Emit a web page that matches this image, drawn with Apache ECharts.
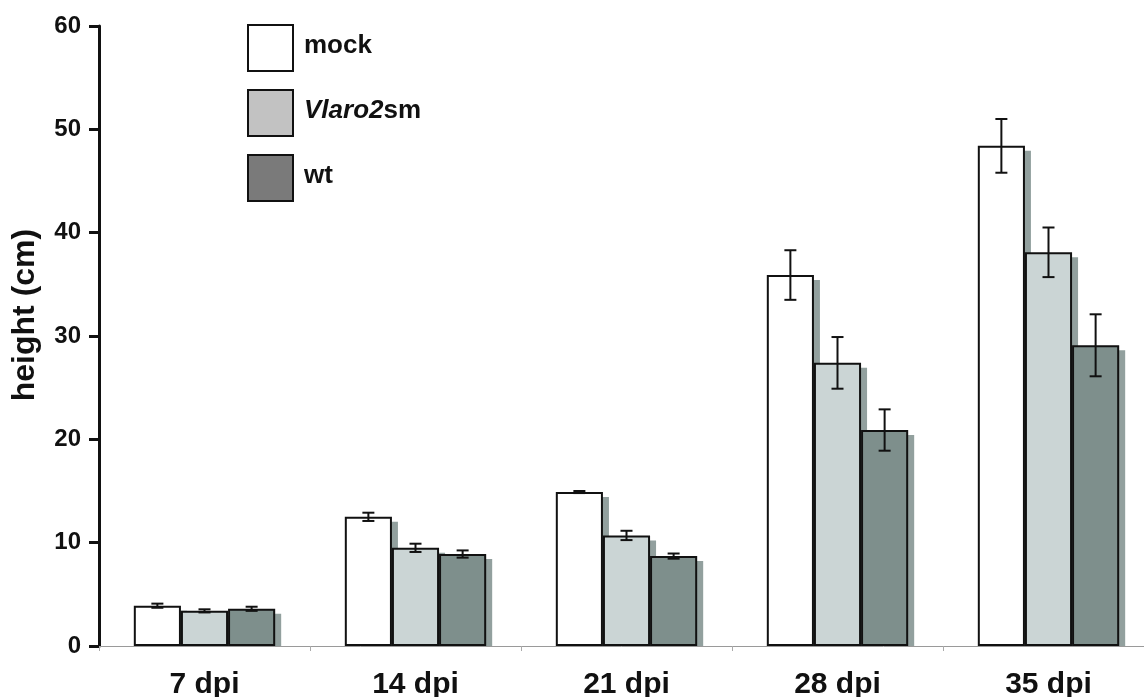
<!DOCTYPE html>
<html>
<head>
<meta charset="utf-8">
<script src="https://cdn.jsdelivr.net/npm/echarts@6/dist/echarts.min.js"></script>
<style>
html,body{margin:0;padding:0;background:#fff;overflow:hidden;}
#chart{width:1144px;height:697px;}
</style>
</head>
<body>
<div id="chart"></div>
<script>
const categories = ['7 dpi', '14 dpi', '21 dpi', '28 dpi', '35 dpi'];
const seriesNames = ['mock', 'Vlaro2sm', 'wt'];
const mockValues  = [3.9, 12.5, 14.9, 35.9, 48.4];
const vlaroValues = [3.4, 9.5, 10.7, 27.4, 38.1];
const wtValues    = [3.6, 8.9, 8.7, 20.9, 29.1];
const mockErr  = [0.2, 0.4, 0.1, 2.4, 2.6];
const vlaroErr = [0.15, 0.4, 0.45, 2.5, 2.4];
const wtErr    = [0.2, 0.35, 0.25, 2.0, 3.0];
const yTicks = [0, 10, 20, 30, 40, 50, 60];

const FONT = '"Liberation Sans", Arial, Helvetica, sans-serif';
const barFill = ['#ffffff', '#cbd5d5', '#7e8f8c'];
const legendFill = ['#ffffff', '#c2c2c2', '#7a7a7a'];
const valueSets = [mockValues, vlaroValues, wtValues];
const errSets = [mockErr, vlaroErr, wtErr];

const chart = echarts.init(document.getElementById('chart'), null, {renderer: 'canvas'});

function barGeom(api, i, k, v) {
  const catW = api.size([1, 0])[0];
  const bw = catW * 0.67 / 3;
  const c = api.coord([k, v]);
  const base = api.coord([k, 0]);
  return {bw: bw, cx: c[0] + (i - 1) * bw, top: c[1], bottom: base[1]};
}

const barSeries = valueSets.map((vals, i) => ({
  name: seriesNames[i],
  type: 'bar',
  data: vals,
  barGap: '0%',
  barCategoryGap: '33%',
  z: 3,
  itemStyle: {color: barFill[i], borderColor: '#111', borderWidth: 2},
  emphasis: {disabled: true},
  animation: false
}));

const shadowSeries = valueSets.map((vals, i) => ({
  name: seriesNames[i] + ' shadow',
  type: 'custom',
  data: vals.map((v, k) => [k, v]),
  encode: {x: 0, y: 1},
  z: 1,
  silent: true,
  animation: false,
  renderItem: function (params, api) {
    const g = barGeom(api, i, api.value(0), api.value(1));
    return {
      type: 'rect',
      shape: {x: g.cx - g.bw / 2 + 6, y: g.top + 5, width: g.bw, height: g.bottom - g.top - 5},
      style: {fill: 'rgba(110,128,126,0.75)'}
    };
  }
}));

const errSeries = valueSets.map((vals, i) => ({
  name: seriesNames[i] + ' error',
  type: 'custom',
  data: vals.map((v, k) => [k, v, errSets[i][k]]),
  encode: {x: 0, y: 1},
  z: 10,
  animation: false,
  silent: true,
  renderItem: function (params, api) {
    const k = api.value(0), v = api.value(1), e = api.value(2);
    const g = barGeom(api, i, k, v);
    const x = g.cx;
    const yHi = api.coord([k, v + e])[1];
    const yLo = api.coord([k, v - e])[1];
    const cap = 6;
    const st = {stroke: '#111', lineWidth: 2, fill: null};
    return {
      type: 'group',
      children: [
        {type: 'line', shape: {x1: x, y1: yHi, x2: x, y2: yLo}, style: st},
        {type: 'line', shape: {x1: x - cap, y1: yHi, x2: x + cap, y2: yHi}, style: st},
        {type: 'line', shape: {x1: x - cap, y1: yLo, x2: x + cap, y2: yLo}, style: st}
      ]
    };
  }
}));

const option = {
  backgroundColor: '#fff',
  animation: false,
  grid: {left: 99, top: 26, width: 1055, height: 620, containLabel: false, outerBoundsMode: 'none'},
  legend: {
    orient: 'vertical',
    left: 242,
    top: 19,
    itemWidth: 45,
    itemHeight: 46,
    itemGap: 17,
    icon: 'rect',
    selectedMode: false,
    data: seriesNames.map((n, i) => ({
      name: n,
      itemStyle: {color: legendFill[i], borderColor: '#111', borderWidth: 2}
    })),
    formatter: function (name) {
      if (name === 'Vlaro2sm') return '{it|Vlaro2}{n|sm}';
      return '{n|' + name + '}';
    },
    textStyle: {
      fontFamily: FONT,
      fontSize: 26,
      fontWeight: 'bold',
      color: '#111',
      padding: [0, 0, 4, 6],
      rich: {
        it: {fontFamily: FONT, fontSize: 26, fontWeight: 'bold', fontStyle: 'italic', color: '#111'},
        n: {fontFamily: FONT, fontSize: 26, fontWeight: 'bold', color: '#111'}
      }
    }
  },
  xAxis: {
    type: 'category',
    data: categories,
    axisLine: {show: true, lineStyle: {color: '#9a9a9a', width: 1}},
    axisTick: {show: true, length: 5, lineStyle: {color: '#aaa', width: 1}},
    axisLabel: {fontFamily: FONT, fontSize: 30, fontWeight: 'bold', color: '#111', margin: 24},
    splitLine: {show: false}
  },
  yAxis: {
    type: 'value',
    min: yTicks[0],
    max: yTicks[yTicks.length - 1],
    interval: 10,
    name: 'height (cm)',
    nameLocation: 'middle',
    nameRotate: 90,
    nameGap: 58,
    nameMoveOverlap: false,
    nameTextStyle: {fontFamily: FONT, fontSize: 32, fontWeight: 'bold', color: '#111', padding: [0, 0, 0, 42]},
    axisLine: {show: true, lineStyle: {color: '#111', width: 3}},
    axisTick: {show: true, length: 10, lineStyle: {color: '#111', width: 3}},
    axisLabel: {fontFamily: FONT, fontSize: 24, fontWeight: 'bold', color: '#111', margin: 18},
    splitLine: {show: false}
  },
  series: shadowSeries.concat(barSeries, errSeries)
};

chart.setOption(option);
</script>
</body>
</html>
